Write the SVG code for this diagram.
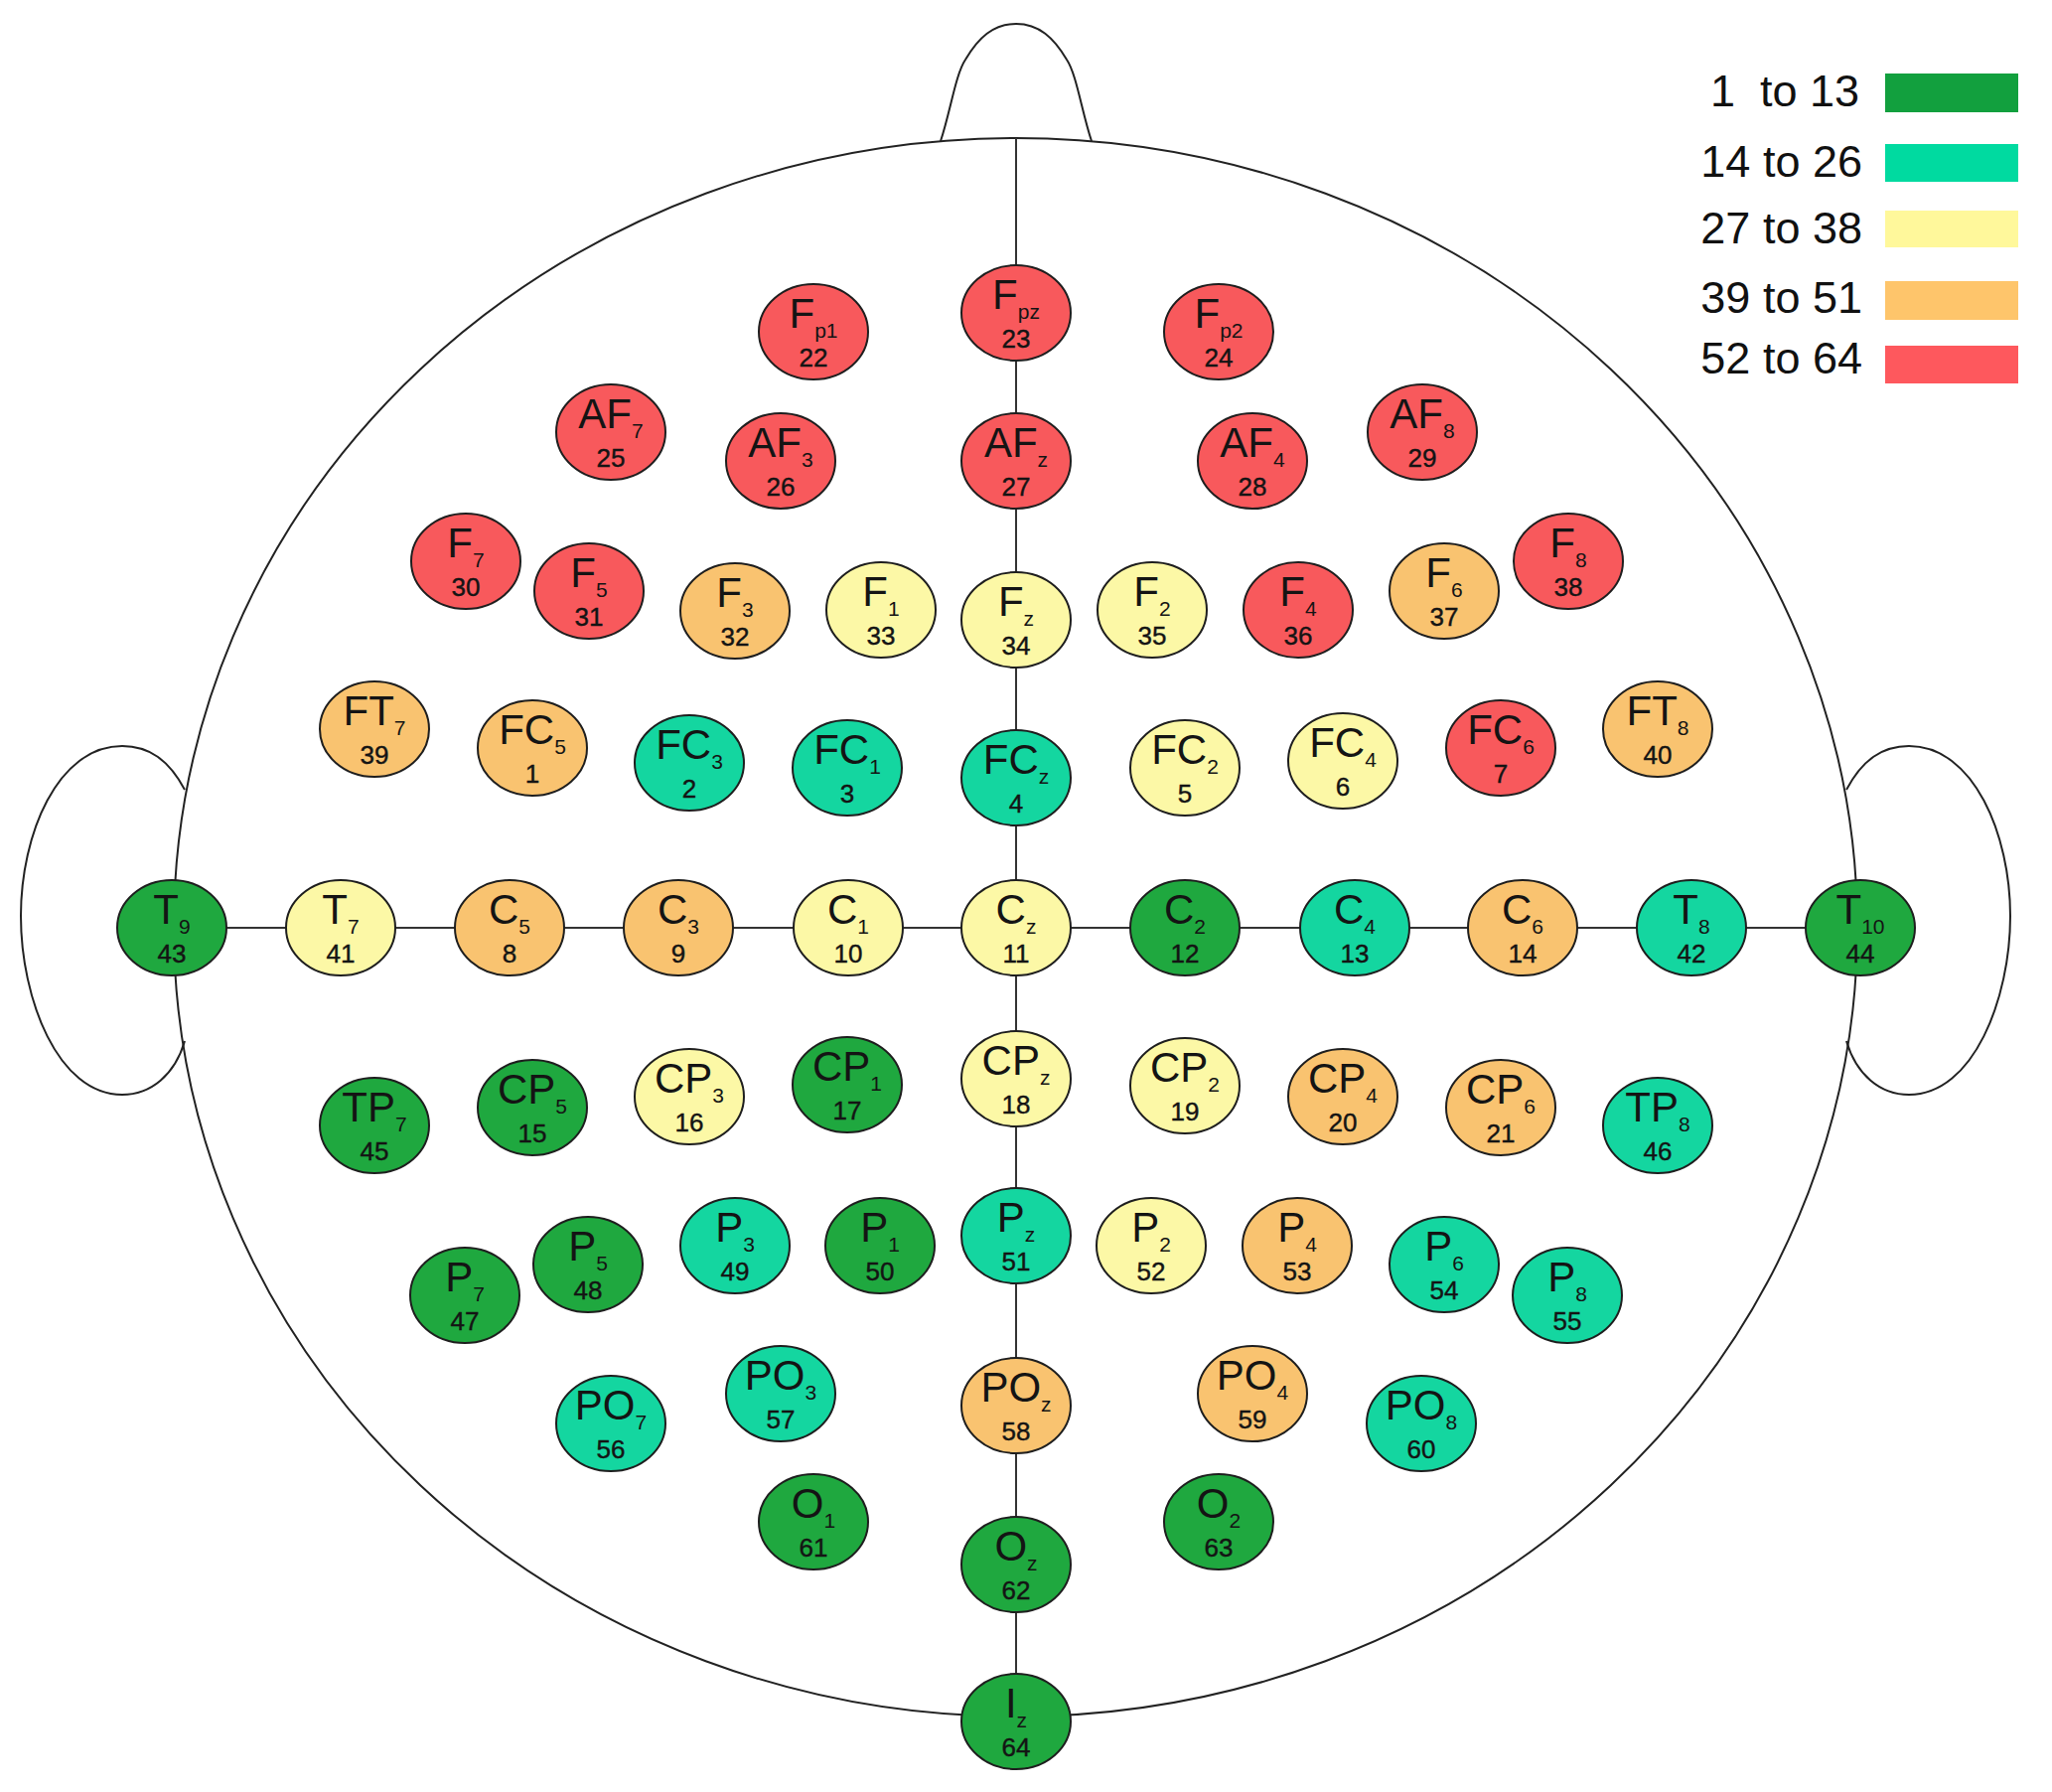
<svg xmlns="http://www.w3.org/2000/svg" width="2066" height="1804" viewBox="0 0 2066 1804">
<style>
.head{fill:none;stroke:#222;stroke-width:2}
#connectors line{stroke:#333;stroke-width:2}
.n ellipse{stroke:#1e1e1e;stroke-width:2}
.g1 ellipse{fill:#1fa83f}
.g2 ellipse{fill:#14d6a0}
.g3 ellipse{fill:#fcf8a6}
.g4 ellipse{fill:#f9c370}
.g5 ellipse{fill:#f8595c}
text{font-family:"Liberation Sans",Arial,sans-serif;fill:#141414}
.l{font-size:42px;text-anchor:middle}
.s{font-size:21px}
.num{font-size:26px;text-anchor:middle;stroke:#141414;stroke-width:0.4}
.lg{font-size:45px;text-anchor:end;fill:#111}
</style>
<rect width="2066" height="1804" fill="#fff"/>
<g id="head">
<ellipse class="head" cx="1022.5" cy="933.5" rx="847.5" ry="794.5"/>
<path class="head" d="M947 142 C957 112 962 75 972 60 C985 38 1000 24 1023 24 C1046 24 1061 38 1074 60 C1084 75 1089 112 1099 142"/>
<path class="head" d="M186 795 C170 765 150 751 123 751 C58 751 21 840 21 922 C21 1005 58 1102 123 1102 C152 1102 176 1082 186 1048"/>
<path class="head" d="M1859 795 C1875 765 1895 751 1922 751 C1987 751 2024 840 2024 922 C2024 1005 1987 1102 1922 1102 C1893 1102 1869 1082 1859 1048"/>
</g>
<g id="connectors">
<line x1="1023" y1="139" x2="1023" y2="1733"/>
<line x1="173" y1="934" x2="1873" y2="934"/>
</g>
<g id="legend">
<rect x="1898" y="74" width="134" height="39" fill="#12a03e"/>
<rect x="1898" y="145" width="134" height="38" fill="#00daa0"/>
<rect x="1898" y="212" width="134" height="37" fill="#fff89b"/>
<rect x="1898" y="283" width="134" height="39" fill="#fec56b"/>
<rect x="1898" y="348" width="134" height="38" fill="#fe585d"/>
<text class="lg" x="1872" y="107" xml:space="preserve">1  to 13</text>
<text class="lg" x="1875" y="178">14 to 26</text>
<text class="lg" x="1875" y="245">27 to 38</text>
<text class="lg" x="1875" y="315">39 to 51</text>
<text class="lg" x="1875" y="376">52 to 64</text>
</g>
<g id="nodes">
<g id="n22" class="n g5"><ellipse cx="819" cy="334" rx="55" ry="48"/><text class="l" x="819" y="330">F<tspan class="s" font-size="16" dy="10">p1</tspan></text><text class="num" x="819" y="369">22</text></g>
<g id="n23" class="n g5"><ellipse cx="1023" cy="315" rx="55" ry="48"/><text class="l" x="1023" y="311">F<tspan class="s" font-size="16" dy="10">pz</tspan></text><text class="num" x="1023" y="350">23</text></g>
<g id="n24" class="n g5"><ellipse cx="1227" cy="334" rx="55" ry="48"/><text class="l" x="1227" y="330">F<tspan class="s" font-size="16" dy="10">p2</tspan></text><text class="num" x="1227" y="369">24</text></g>
<g id="n25" class="n g5"><ellipse cx="615" cy="435" rx="55" ry="48"/><text class="l" x="615" y="431">AF<tspan class="s" dy="10">7</tspan></text><text class="num" x="615" y="470">25</text></g>
<g id="n26" class="n g5"><ellipse cx="786" cy="464" rx="55" ry="48"/><text class="l" x="786" y="460">AF<tspan class="s" dy="10">3</tspan></text><text class="num" x="786" y="499">26</text></g>
<g id="n27" class="n g5"><ellipse cx="1023" cy="464" rx="55" ry="48"/><text class="l" x="1023" y="460">AF<tspan class="s" dy="10">z</tspan></text><text class="num" x="1023" y="499">27</text></g>
<g id="n28" class="n g5"><ellipse cx="1261" cy="464" rx="55" ry="48"/><text class="l" x="1261" y="460">AF<tspan class="s" dy="10">4</tspan></text><text class="num" x="1261" y="499">28</text></g>
<g id="n29" class="n g5"><ellipse cx="1432" cy="435" rx="55" ry="48"/><text class="l" x="1432" y="431">AF<tspan class="s" dy="10">8</tspan></text><text class="num" x="1432" y="470">29</text></g>
<g id="n30" class="n g5"><ellipse cx="469" cy="565" rx="55" ry="48"/><text class="l" x="469" y="561">F<tspan class="s" dy="10">7</tspan></text><text class="num" x="469" y="600">30</text></g>
<g id="n31" class="n g5"><ellipse cx="593" cy="595" rx="55" ry="48"/><text class="l" x="593" y="591">F<tspan class="s" dy="10">5</tspan></text><text class="num" x="593" y="630">31</text></g>
<g id="n32" class="n g4"><ellipse cx="740" cy="615" rx="55" ry="48"/><text class="l" x="740" y="611">F<tspan class="s" dy="10">3</tspan></text><text class="num" x="740" y="650">32</text></g>
<g id="n33" class="n g3"><ellipse cx="887" cy="614" rx="55" ry="48"/><text class="l" x="887" y="610">F<tspan class="s" dy="10">1</tspan></text><text class="num" x="887" y="649">33</text></g>
<g id="n34" class="n g3"><ellipse cx="1023" cy="624" rx="55" ry="48"/><text class="l" x="1023" y="620">F<tspan class="s" dy="10">z</tspan></text><text class="num" x="1023" y="659">34</text></g>
<g id="n35" class="n g3"><ellipse cx="1160" cy="614" rx="55" ry="48"/><text class="l" x="1160" y="610">F<tspan class="s" dy="10">2</tspan></text><text class="num" x="1160" y="649">35</text></g>
<g id="n36" class="n g5"><ellipse cx="1307" cy="614" rx="55" ry="48"/><text class="l" x="1307" y="610">F<tspan class="s" dy="10">4</tspan></text><text class="num" x="1307" y="649">36</text></g>
<g id="n37" class="n g4"><ellipse cx="1454" cy="595" rx="55" ry="48"/><text class="l" x="1454" y="591">F<tspan class="s" dy="10">6</tspan></text><text class="num" x="1454" y="630">37</text></g>
<g id="n38" class="n g5"><ellipse cx="1579" cy="565" rx="55" ry="48"/><text class="l" x="1579" y="561">F<tspan class="s" dy="10">8</tspan></text><text class="num" x="1579" y="600">38</text></g>
<g id="n39" class="n g4"><ellipse cx="377" cy="734" rx="55" ry="48"/><text class="l" x="377" y="730">FT<tspan class="s" dy="10">7</tspan></text><text class="num" x="377" y="769">39</text></g>
<g id="n1" class="n g4"><ellipse cx="536" cy="753" rx="55" ry="48"/><text class="l" x="536" y="749">FC<tspan class="s" dy="10">5</tspan></text><text class="num" x="536" y="788">1</text></g>
<g id="n2" class="n g2"><ellipse cx="694" cy="768" rx="55" ry="48"/><text class="l" x="694" y="764">FC<tspan class="s" dy="10">3</tspan></text><text class="num" x="694" y="803">2</text></g>
<g id="n3" class="n g2"><ellipse cx="853" cy="773" rx="55" ry="48"/><text class="l" x="853" y="769">FC<tspan class="s" dy="10">1</tspan></text><text class="num" x="853" y="808">3</text></g>
<g id="n4" class="n g2"><ellipse cx="1023" cy="783" rx="55" ry="48"/><text class="l" x="1023" y="779">FC<tspan class="s" dy="10">z</tspan></text><text class="num" x="1023" y="818">4</text></g>
<g id="n5" class="n g3"><ellipse cx="1193" cy="773" rx="55" ry="48"/><text class="l" x="1193" y="769">FC<tspan class="s" dy="10">2</tspan></text><text class="num" x="1193" y="808">5</text></g>
<g id="n6" class="n g3"><ellipse cx="1352" cy="766" rx="55" ry="48"/><text class="l" x="1352" y="762">FC<tspan class="s" dy="10">4</tspan></text><text class="num" x="1352" y="801">6</text></g>
<g id="n7" class="n g5"><ellipse cx="1511" cy="753" rx="55" ry="48"/><text class="l" x="1511" y="749">FC<tspan class="s" dy="10">6</tspan></text><text class="num" x="1511" y="788">7</text></g>
<g id="n40" class="n g4"><ellipse cx="1669" cy="734" rx="55" ry="48"/><text class="l" x="1669" y="730">FT<tspan class="s" dy="10">8</tspan></text><text class="num" x="1669" y="769">40</text></g>
<g id="n43" class="n g1"><ellipse cx="173" cy="934" rx="55" ry="48"/><text class="l" x="173" y="930">T<tspan class="s" dy="10">9</tspan></text><text class="num" x="173" y="969">43</text></g>
<g id="n41" class="n g3"><ellipse cx="343" cy="934" rx="55" ry="48"/><text class="l" x="343" y="930">T<tspan class="s" dy="10">7</tspan></text><text class="num" x="343" y="969">41</text></g>
<g id="n8" class="n g4"><ellipse cx="513" cy="934" rx="55" ry="48"/><text class="l" x="513" y="930">C<tspan class="s" dy="10">5</tspan></text><text class="num" x="513" y="969">8</text></g>
<g id="n9" class="n g4"><ellipse cx="683" cy="934" rx="55" ry="48"/><text class="l" x="683" y="930">C<tspan class="s" dy="10">3</tspan></text><text class="num" x="683" y="969">9</text></g>
<g id="n10" class="n g3"><ellipse cx="854" cy="934" rx="55" ry="48"/><text class="l" x="854" y="930">C<tspan class="s" dy="10">1</tspan></text><text class="num" x="854" y="969">10</text></g>
<g id="n11" class="n g3"><ellipse cx="1023" cy="934" rx="55" ry="48"/><text class="l" x="1023" y="930">C<tspan class="s" dy="10">z</tspan></text><text class="num" x="1023" y="969">11</text></g>
<g id="n12" class="n g1"><ellipse cx="1193" cy="934" rx="55" ry="48"/><text class="l" x="1193" y="930">C<tspan class="s" dy="10">2</tspan></text><text class="num" x="1193" y="969">12</text></g>
<g id="n13" class="n g2"><ellipse cx="1364" cy="934" rx="55" ry="48"/><text class="l" x="1364" y="930">C<tspan class="s" dy="10">4</tspan></text><text class="num" x="1364" y="969">13</text></g>
<g id="n14" class="n g4"><ellipse cx="1533" cy="934" rx="55" ry="48"/><text class="l" x="1533" y="930">C<tspan class="s" dy="10">6</tspan></text><text class="num" x="1533" y="969">14</text></g>
<g id="n42" class="n g2"><ellipse cx="1703" cy="934" rx="55" ry="48"/><text class="l" x="1703" y="930">T<tspan class="s" dy="10">8</tspan></text><text class="num" x="1703" y="969">42</text></g>
<g id="n44" class="n g1"><ellipse cx="1873" cy="934" rx="55" ry="48"/><text class="l" x="1873" y="930">T<tspan class="s" dy="10">10</tspan></text><text class="num" x="1873" y="969">44</text></g>
<g id="n45" class="n g1"><ellipse cx="377" cy="1133" rx="55" ry="48"/><text class="l" x="377" y="1129">TP<tspan class="s" dy="10">7</tspan></text><text class="num" x="377" y="1168">45</text></g>
<g id="n15" class="n g1"><ellipse cx="536" cy="1115" rx="55" ry="48"/><text class="l" x="536" y="1111">CP<tspan class="s" dy="10">5</tspan></text><text class="num" x="536" y="1150">15</text></g>
<g id="n16" class="n g3"><ellipse cx="694" cy="1104" rx="55" ry="48"/><text class="l" x="694" y="1100">CP<tspan class="s" dy="10">3</tspan></text><text class="num" x="694" y="1139">16</text></g>
<g id="n17" class="n g1"><ellipse cx="853" cy="1092" rx="55" ry="48"/><text class="l" x="853" y="1088">CP<tspan class="s" dy="10">1</tspan></text><text class="num" x="853" y="1127">17</text></g>
<g id="n18" class="n g3"><ellipse cx="1023" cy="1086" rx="55" ry="48"/><text class="l" x="1023" y="1082">CP<tspan class="s" dy="10">z</tspan></text><text class="num" x="1023" y="1121">18</text></g>
<g id="n19" class="n g3"><ellipse cx="1193" cy="1093" rx="55" ry="48"/><text class="l" x="1193" y="1089">CP<tspan class="s" dy="10">2</tspan></text><text class="num" x="1193" y="1128">19</text></g>
<g id="n20" class="n g4"><ellipse cx="1352" cy="1104" rx="55" ry="48"/><text class="l" x="1352" y="1100">CP<tspan class="s" dy="10">4</tspan></text><text class="num" x="1352" y="1139">20</text></g>
<g id="n21" class="n g4"><ellipse cx="1511" cy="1115" rx="55" ry="48"/><text class="l" x="1511" y="1111">CP<tspan class="s" dy="10">6</tspan></text><text class="num" x="1511" y="1150">21</text></g>
<g id="n46" class="n g2"><ellipse cx="1669" cy="1133" rx="55" ry="48"/><text class="l" x="1669" y="1129">TP<tspan class="s" dy="10">8</tspan></text><text class="num" x="1669" y="1168">46</text></g>
<g id="n47" class="n g1"><ellipse cx="468" cy="1304" rx="55" ry="48"/><text class="l" x="468" y="1300">P<tspan class="s" dy="10">7</tspan></text><text class="num" x="468" y="1339">47</text></g>
<g id="n48" class="n g1"><ellipse cx="592" cy="1273" rx="55" ry="48"/><text class="l" x="592" y="1269">P<tspan class="s" dy="10">5</tspan></text><text class="num" x="592" y="1308">48</text></g>
<g id="n49" class="n g2"><ellipse cx="740" cy="1254" rx="55" ry="48"/><text class="l" x="740" y="1250">P<tspan class="s" dy="10">3</tspan></text><text class="num" x="740" y="1289">49</text></g>
<g id="n50" class="n g1"><ellipse cx="886" cy="1254" rx="55" ry="48"/><text class="l" x="886" y="1250">P<tspan class="s" dy="10">1</tspan></text><text class="num" x="886" y="1289">50</text></g>
<g id="n51" class="n g2"><ellipse cx="1023" cy="1244" rx="55" ry="48"/><text class="l" x="1023" y="1240">P<tspan class="s" dy="10">z</tspan></text><text class="num" x="1023" y="1279">51</text></g>
<g id="n52" class="n g3"><ellipse cx="1159" cy="1254" rx="55" ry="48"/><text class="l" x="1159" y="1250">P<tspan class="s" dy="10">2</tspan></text><text class="num" x="1159" y="1289">52</text></g>
<g id="n53" class="n g4"><ellipse cx="1306" cy="1254" rx="55" ry="48"/><text class="l" x="1306" y="1250">P<tspan class="s" dy="10">4</tspan></text><text class="num" x="1306" y="1289">53</text></g>
<g id="n54" class="n g2"><ellipse cx="1454" cy="1273" rx="55" ry="48"/><text class="l" x="1454" y="1269">P<tspan class="s" dy="10">6</tspan></text><text class="num" x="1454" y="1308">54</text></g>
<g id="n55" class="n g2"><ellipse cx="1578" cy="1304" rx="55" ry="48"/><text class="l" x="1578" y="1300">P<tspan class="s" dy="10">8</tspan></text><text class="num" x="1578" y="1339">55</text></g>
<g id="n56" class="n g2"><ellipse cx="615" cy="1433" rx="55" ry="48"/><text class="l" x="615" y="1429">PO<tspan class="s" dy="10">7</tspan></text><text class="num" x="615" y="1468">56</text></g>
<g id="n57" class="n g2"><ellipse cx="786" cy="1403" rx="55" ry="48"/><text class="l" x="786" y="1399">PO<tspan class="s" dy="10">3</tspan></text><text class="num" x="786" y="1438">57</text></g>
<g id="n58" class="n g4"><ellipse cx="1023" cy="1415" rx="55" ry="48"/><text class="l" x="1023" y="1411">PO<tspan class="s" dy="10">z</tspan></text><text class="num" x="1023" y="1450">58</text></g>
<g id="n59" class="n g4"><ellipse cx="1261" cy="1403" rx="55" ry="48"/><text class="l" x="1261" y="1399">PO<tspan class="s" dy="10">4</tspan></text><text class="num" x="1261" y="1438">59</text></g>
<g id="n60" class="n g2"><ellipse cx="1431" cy="1433" rx="55" ry="48"/><text class="l" x="1431" y="1429">PO<tspan class="s" dy="10">8</tspan></text><text class="num" x="1431" y="1468">60</text></g>
<g id="n61" class="n g1"><ellipse cx="819" cy="1532" rx="55" ry="48"/><text class="l" x="819" y="1528">O<tspan class="s" dy="10">1</tspan></text><text class="num" x="819" y="1567">61</text></g>
<g id="n62" class="n g1"><ellipse cx="1023" cy="1575" rx="55" ry="48"/><text class="l" x="1023" y="1571">O<tspan class="s" dy="10">z</tspan></text><text class="num" x="1023" y="1610">62</text></g>
<g id="n63" class="n g1"><ellipse cx="1227" cy="1532" rx="55" ry="48"/><text class="l" x="1227" y="1528">O<tspan class="s" dy="10">2</tspan></text><text class="num" x="1227" y="1567">63</text></g>
<g id="n64" class="n g1"><ellipse cx="1023" cy="1733" rx="55" ry="48"/><text class="l" x="1023" y="1729">I<tspan class="s" dy="10">z</tspan></text><text class="num" x="1023" y="1768">64</text></g>
</g>
</svg>
